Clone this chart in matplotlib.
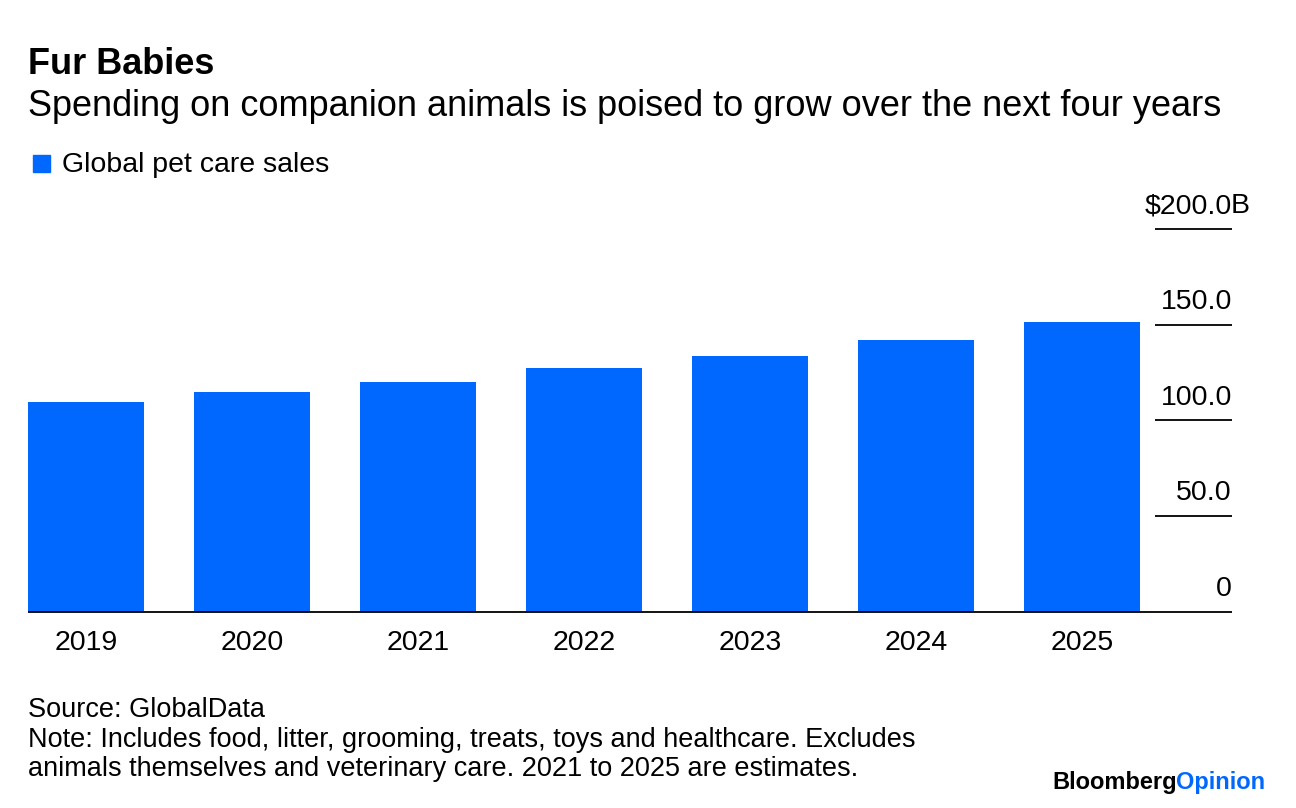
import matplotlib
matplotlib.use("Agg")
import matplotlib.pyplot as plt
import matplotlib.transforms as mtransforms
from matplotlib.patches import Rectangle

plt.rcParams['font.family'] = ['Liberation Sans', 'DejaVu Sans']

years = ["2019", "2020", "2021", "2022", "2023", "2024", "2025"]
sales = [109.7, 115.0, 120.2, 127.5, 133.8, 142.1, 151.5]
yticks = [0, 50, 100, 150, 200]
ytick_labels = ["0", "50.0", "100.0", "150.0", "$200.0"]
top_unit = "B"

BLUE = "#0068FF"
W, H = 1296, 808
fig = plt.figure(figsize=(W / 100, H / 100), dpi=100)

def fx(px):
    return px / W

def fy(py):
    return 1 - py / H

ax = fig.add_axes([fx(28), fy(612), fx(1232) - fx(28), fy(229) - fy(612)])
x = list(range(len(years)))
ax.bar(x, sales, width=0.7, color=BLUE, zorder=2)
ax.set_xlim(-0.349, 6.904)
ax.set_ylim(0, 200)
for s in ax.spines.values():
    s.set_visible(False)
ax.set_yticks([])
ax.set_xticks(x)
ax.set_xticklabels(years, fontsize=20.5)
ax.tick_params(axis='x', length=0, pad=13)

trans = mtransforms.blended_transform_factory(ax.transAxes, ax.transData)
for v, lab in zip(yticks, ytick_labels):
    x0 = 0.0 if v == 0 else (1155 - 28) / (1232 - 28)
    ax.plot([x0, 1.0], [v, v], color="black", lw=1.3, transform=trans,
            clip_on=False, zorder=3, solid_capstyle='butt')
    ax.annotate(lab, xy=(1.0, v), xycoords=trans, xytext=(0, 11.5),
                textcoords='offset points', ha='right', va='baseline',
                fontsize=20.5, color='black')
ax.annotate(top_unit, xy=(1.0, yticks[-1]), xycoords=trans, xytext=(-1.2, 11.5),
            textcoords='offset points', ha='left', va='baseline',
            fontsize=20.5, color='black', annotation_clip=False)

# Titles
fig.text(fx(28), fy(64), "Fur Babies", fontsize=26, fontweight='bold',
         va='center', ha='left')
fig.text(fx(28), fy(106), "Spending on companion animals is poised to grow over the next four years",
         fontsize=26, va='center', ha='left')

# Legend
fig.patches.append(Rectangle((fx(33), fy(172)), fx(17), fy(155) - fy(172),
                             transform=fig.transFigure, color=BLUE))
fig.text(fx(62), fy(165), "Global pet care sales", fontsize=20.5,
         va='center', ha='left')

# Footer
fig.text(fx(28), fy(710), "Source: GlobalData", fontsize=19.5, va='center', ha='left')
fig.text(fx(28), fy(740), "Note: Includes food, litter, grooming, treats, toys and healthcare. Excludes",
         fontsize=19.5, va='center', ha='left')
fig.text(fx(28), fy(769), "animals themselves and veterinary care. 2021 to 2025 are estimates.",
         fontsize=19.5, va='center', ha='left')

# Logo
t1 = fig.text(fx(1052), fy(783), "Bloomberg", fontsize=17, fontweight='bold',
              va='center', ha='left', color='black')
fig.canvas.draw()
bb = t1.get_window_extent()
fig.text((bb.x1 - 1) / W, fy(783), "Opinion", fontsize=17, fontweight='bold',
         va='center', ha='left', color=BLUE)

fig.savefig("out.png", dpi=100)
